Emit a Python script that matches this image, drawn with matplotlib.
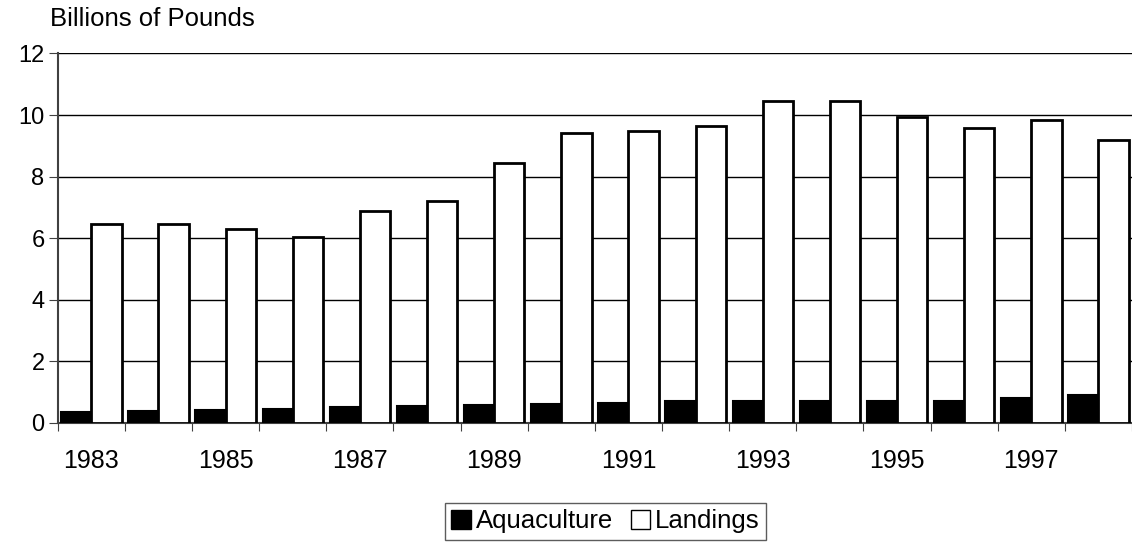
import matplotlib.pyplot as plt
import numpy as np
from matplotlib.patches import Patch

plt.rcParams['font.family'] = ['Liberation Sans', 'DejaVu Sans']

years = [1983, 1984, 1985, 1986, 1987, 1988, 1989, 1990,
         1991, 1992, 1993, 1994, 1995, 1996, 1997, 1998]
aquaculture = [0.35, 0.37, 0.40, 0.44, 0.50, 0.54, 0.57, 0.61,
               0.64, 0.71, 0.72, 0.70, 0.72, 0.72, 0.80, 0.90]
landings = [6.45, 6.47, 6.28, 6.03, 6.89, 7.19, 8.44, 9.41,
            9.49, 9.65, 10.46, 10.46, 9.92, 9.58, 9.84, 9.19]
yticks = [0, 2, 4, 6, 8, 10, 12]

fig = plt.figure(figsize=(11.32, 5.42), dpi=100)
ax = fig.add_axes([0.051, 0.2201, 0.949, 0.6812])

x = np.arange(len(years))
w = 0.45
ax.bar(x - w / 2, aquaculture, w, color='black', edgecolor='black', linewidth=1.5, zorder=3)
ax.bar(x + w / 2, landings, w, color='white', edgecolor='black', linewidth=2, zorder=3)

ax.set_ylim(0, 12)
ax.set_xlim(-0.5, 15.44)
ax.set_yticks(yticks)
ax.set_yticklabels([str(t) for t in yticks], fontsize=17)
for t in yticks[1:]:
    ax.axhline(t, color='black', linewidth=1, zorder=1)

# ticks at category boundaries, labels every other year
ax.set_xticks(np.arange(len(years) + 1) - 0.5)
ax.set_xticklabels([])
ax.set_xticks(x[::2], minor=True)
ax.set_xticklabels([str(y) for y in years[::2]], minor=True, fontsize=18)
ax.tick_params(axis='x', which='minor', length=0, pad=19)
ax.tick_params(axis='x', which='major', length=6, color='#404040', direction='out')
ax.tick_params(axis='y', length=6.5, color='#404040', pad=3)

for s in ['top', 'right']:
    ax.spines[s].set_visible(False)
ax.spines['left'].set_color('#404040')
ax.spines['bottom'].set_color('#404040')
ax.spines['left'].set_linewidth(1.5)
ax.spines['bottom'].set_linewidth(1.5)

fig.text(0.044, 0.965, 'Billions of Pounds', fontsize=18.5, va='center', ha='left')

handles = [Patch(facecolor='black', edgecolor='black', label='Aquaculture'),
           Patch(facecolor='white', edgecolor='black', label='Landings')]
leg = fig.legend(handles=handles, loc='center', bbox_to_anchor=(0.535, 0.038), ncol=2,
                 fontsize=18.5, frameon=True, fancybox=False, edgecolor='#333333',
                 handlelength=0.75, handleheight=0.75, handletextpad=0.2,
                 columnspacing=0.7, borderpad=0.25, borderaxespad=0)
leg.get_frame().set_linewidth(1)

fig.savefig('out.png', dpi=100)
